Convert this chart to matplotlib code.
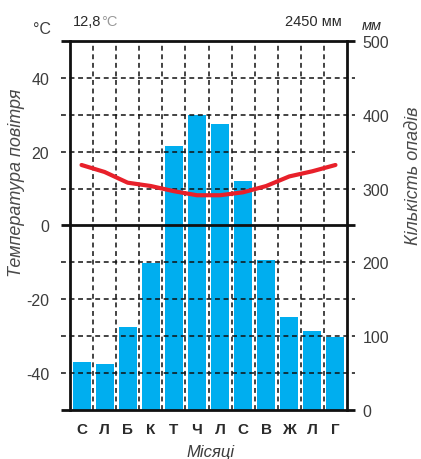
import matplotlib
matplotlib.use('Agg')
import matplotlib.pyplot as plt
import numpy as np

# Climate data by month
months = ['С', 'Л', 'Б', 'К', 'Т', 'Ч', 'Л', 'С', 'В', 'Ж', 'Л', 'Г']
precip_mm = [65, 62, 112, 199, 358, 400, 387, 310, 203, 126, 107, 99]
temp_c = [16.4, 14.5, 11.6, 10.7, 9.3, 8.2, 8.2, 9.0, 10.7, 13.3, 14.7, 16.4]

temp_ticks = [-40, -20, 0, 20, 40]
precip_ticks = [0, 100, 200, 300, 400, 500]
grid_temps = [-40, -30, -20, -10, 10, 20, 30, 40]
mean_temp_label = '12,8'
total_precip_label = '2450 мм'

plt.rcParams['font.family'] = ['Liberation Sans', 'DejaVu Sans']
plt.rcParams['axes.unicode_minus'] = False
TXT = '#2a2a2a'
SOFT = '#3c3c3c'
BAR = '#00AEEF'
RED = '#E8202A'

W, H = 421, 460
fig = plt.figure(figsize=(W / 100, H / 100), dpi=100)
ax_p = fig.add_axes([70 / W, 49 / H, 277 / W, 369 / H])
ax_t = ax_p.twinx()

x = np.arange(len(months)) + 0.5
ax_p.bar(x, precip_mm, width=0.78, color=BAR, zorder=1)
ax_p.set_xlim(0, 12)
ax_p.set_ylim(0, 500)
ax_t.set_ylim(-50, 50)

# precipitation on the right, temperature on the left
ax_p.yaxis.tick_right()
ax_t.yaxis.tick_left()
ax_p.set_yticks(precip_ticks)
ax_t.set_yticks(temp_ticks)
ax_p.tick_params(axis='y', length=0, pad=11, labelsize=11.5, labelcolor=SOFT)
ax_t.tick_params(axis='y', length=0, pad=15, labelsize=11.5, labelcolor=SOFT)

ax_p.set_xticks(x, months)
ax_p.tick_params(axis='x', length=0, pad=9, labelsize=11, labelcolor=TXT)
for lab in ax_p.get_xticklabels():
    lab.set_fontweight('bold')

for a in (ax_p, ax_t):
    for s in a.spines.values():
        s.set_visible(False)
ax_t.spines['left'].set_visible(True)
ax_t.spines['right'].set_visible(True)
for side in ('left', 'right'):
    ax_t.spines[side].set_linewidth(2.0)
    ax_t.spines[side].set_color('#111111')

ytr = ax_t.get_yaxis_transform()
x0, x1 = -9 / 277, 1 + 8 / 277
for t in (-50, 0, 50):
    ax_t.plot([x0, x1], [t, t], color='#111111', lw=2.0, transform=ytr,
              clip_on=False, zorder=3, solid_capstyle='butt')
for t in grid_temps:
    ax_t.plot([x0, x1], [t, t], color='#111111', lw=1.1, transform=ytr,
              clip_on=False, zorder=3, dashes=(3.2, 2.4))
for i in range(1, 12):
    ax_t.plot([i, i], [-50, 50], color='#111111', lw=1.1, zorder=3,
              dashes=(3.2, 2.4))

ax_t.plot(x, temp_c, color=RED, lw=3.0, solid_capstyle='round',
          solid_joinstyle='round', zorder=5)

# annotations
fig.text(211 / W, 1 - 453 / H, 'Місяці', ha='center', va='center',
         fontsize=12, style='italic', color=SOFT)
fig.text(17 / W, 1 - 183 / H, 'Температура повітря', rotation=90,
         ha='center', va='center', fontsize=13, style='italic', color='#4a4a4a')
fig.text(413 / W, 1 - 176 / H, 'Кількість опадів', rotation=90,
         ha='center', va='center', fontsize=13, style='italic', color='#4a4a4a')
fig.text(42 / W, 1 - 29 / H, '°C', ha='center', va='center',
         fontsize=11.5, color=SOFT)
t1 = fig.text(73 / W, 1 - 22 / H, mean_temp_label, ha='left', va='center',
              fontsize=10.5, color=TXT)
fig.canvas.draw()
bb = t1.get_window_extent()
fig.text(bb.x1 / W, 1 - 22 / H, '°C', ha='left', va='center',
         fontsize=10.5, color='#999999')
fig.text(342 / W, 1 - 22 / H, total_precip_label, ha='right', va='center',
         fontsize=10.5, color=TXT)
fig.text(372 / W, 1 - 26 / H, 'мм', ha='center', va='center',
         fontsize=10.5, style='italic', color=TXT)

fig.savefig('out.png', dpi=100)
